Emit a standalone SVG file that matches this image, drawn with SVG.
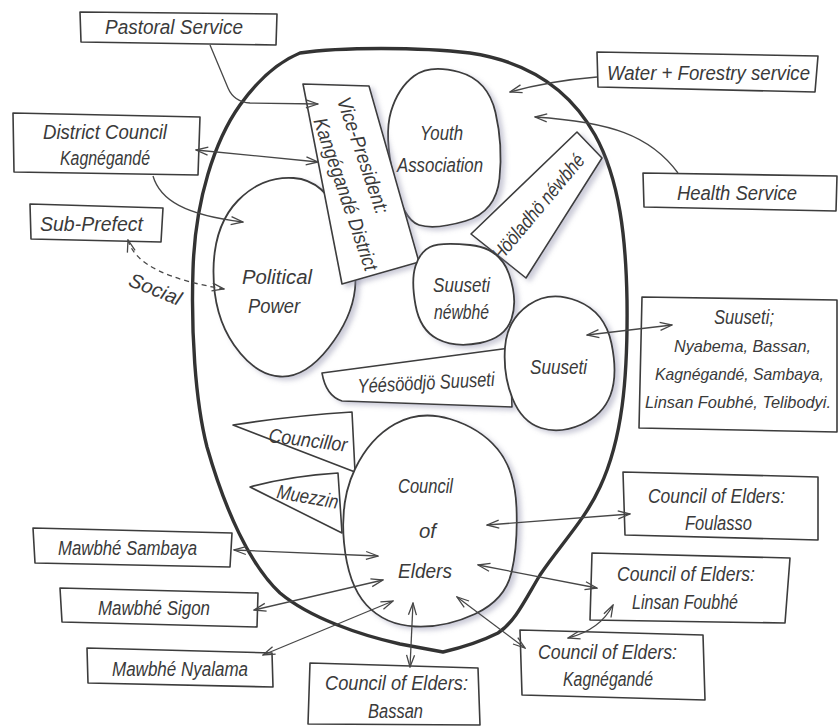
<svg xmlns="http://www.w3.org/2000/svg" width="839" height="727" viewBox="0 0 839 727">
  <defs>
    <style>
      .box { fill: #fff; stroke: #3c3c3c; stroke-width: 1.6; stroke-linejoin: round; }
      .blob { fill: #fff; stroke: #3c3c3c; stroke-width: 1.8; stroke-linejoin: round; filter: url(#shade); }
      .lbl { font-family: 'Liberation Sans', 'DejaVu Sans', sans-serif; font-style: italic; font-size: 20px; fill: #3a3a3a; }
      .small { font-size: 17px; }
      .link { fill: none; stroke: #474747; stroke-width: 1.3; }
      .dash { stroke-dasharray: 5 4; }
      .boundary { fill: none; stroke: #333; stroke-width: 3.4; stroke-linejoin: round; }
    </style>
    <filter id="shade" x="-15%" y="-15%" width="140%" height="140%">
      <feDropShadow dx="4" dy="3" stdDeviation="2.5" flood-color="#8d8daa" flood-opacity="0.45"/>
    </filter>
    <marker id="head" viewBox="0 0 14 10" refX="13" refY="5" markerWidth="14" markerHeight="10" markerUnits="userSpaceOnUse" orient="auto-start-reverse">
      <path d="M1,1 L13,5 L1,9" fill="none" stroke="#474747" stroke-width="1.3" stroke-dasharray="none"/>
    </marker>
  </defs>

  <rect width="839" height="727" fill="#fff"/>

  <!-- community boundary -->
  <g id="community-boundary">
    <path class="boundary" d="M300,53 C340,47 420,47 470,53 C530,62 570,90 595,135 C620,180 626,240 627,300 C628,380 622,440 600,487 C585,520 560,545 540,575 C525,600 515,622 498,633 C480,642 460,648 443,652 L400,644 C360,635 310,618 280,593 C250,565 225,510 207,447 C195,400 191,330 193,270 C195,200 215,140 240,105 C258,80 278,62 300,53 Z"/>
  </g>

  <!-- outside actors -->
  <g id="pastoral-service">
    <polygon class="box" points="80,12 277,14 276,45 81,42"/>
    <text class="lbl" x="105" y="34" textLength="138" lengthAdjust="spacingAndGlyphs">Pastoral Service</text>
  </g>
  <g id="district-council">
    <polygon class="box" points="13,113 200,117 198,175 14,172"/>
    <text class="lbl" x="43" y="139" textLength="124" lengthAdjust="spacingAndGlyphs">District Council</text>
    <text class="lbl" x="60" y="165" textLength="90" lengthAdjust="spacingAndGlyphs">Kagnégandé</text>
  </g>
  <g id="sub-prefect">
    <polygon class="box" points="30,204 163,208 161,242 31,239"/>
    <text class="lbl" x="40" y="231" textLength="103" lengthAdjust="spacingAndGlyphs">Sub-Prefect</text>
  </g>
  <g id="water-forestry">
    <polygon class="box" points="597,52 818,56 815,92 598,87"/>
    <text class="lbl" x="607" y="80" textLength="203" lengthAdjust="spacingAndGlyphs">Water + Forestry service</text>
  </g>
  <g id="health-service">
    <polygon class="box" points="643,173 837,176 836,211 644,207"/>
    <text class="lbl" x="677" y="200" textLength="120" lengthAdjust="spacingAndGlyphs">Health Service</text>
  </g>
  <g id="suuseti-villages">
    <polygon class="box" points="642,297 837,300 837,432 639,428"/>
    <text class="lbl" x="714" y="324" textLength="60" lengthAdjust="spacingAndGlyphs">Suuseti;</text>
    <text class="lbl small" x="674" y="352" textLength="137" lengthAdjust="spacingAndGlyphs">Nyabema, Bassan,</text>
    <text class="lbl small" x="655" y="380" textLength="169" lengthAdjust="spacingAndGlyphs">Kagnégandé, Sambaya,</text>
    <text class="lbl small" x="645" y="408" textLength="186" lengthAdjust="spacingAndGlyphs">Linsan Foubhé, Telibodyi.</text>
  </g>
  <g id="elders-foulasso">
    <polygon class="box" points="623,472 818,477 818,540 625,535"/>
    <text class="lbl" x="648" y="503" textLength="137" lengthAdjust="spacingAndGlyphs">Council of Elders:</text>
    <text class="lbl" x="685" y="530" textLength="67" lengthAdjust="spacingAndGlyphs">Foulasso</text>
  </g>
  <g id="elders-linsan">
    <polygon class="box" points="592,553 790,558 785,623 590,620"/>
    <text class="lbl" x="617" y="581" textLength="138" lengthAdjust="spacingAndGlyphs">Council of Elders:</text>
    <text class="lbl" x="632" y="609" textLength="106" lengthAdjust="spacingAndGlyphs">Linsan Foubhé</text>
  </g>
  <g id="elders-kagnegande">
    <polygon class="box" points="520,630 703,635 705,700 522,695"/>
    <text class="lbl" x="538" y="659" textLength="139" lengthAdjust="spacingAndGlyphs">Council of Elders:</text>
    <text class="lbl" x="563" y="686" textLength="90" lengthAdjust="spacingAndGlyphs">Kagnégandé</text>
  </g>
  <g id="elders-bassan">
    <polygon class="box" points="310,663 478,668 480,725 308,724"/>
    <text class="lbl" x="325" y="690" textLength="143" lengthAdjust="spacingAndGlyphs">Council of Elders:</text>
    <text class="lbl" x="368" y="718" textLength="55" lengthAdjust="spacingAndGlyphs">Bassan</text>
  </g>
  <g id="mawbhe-sambaya">
    <polygon class="box" points="33,528 232,533 230,567 35,563"/>
    <text class="lbl" x="58" y="555" textLength="139" lengthAdjust="spacingAndGlyphs">Mawbhé Sambaya</text>
  </g>
  <g id="mawbhe-sigon">
    <polygon class="box" points="60,588 258,593 257,627 62,622"/>
    <text class="lbl" x="98" y="615" textLength="112" lengthAdjust="spacingAndGlyphs">Mawbhé Sigon</text>
  </g>
  <g id="mawbhe-nyalama">
    <polygon class="box" points="87,648 272,653 273,687 88,683"/>
    <text class="lbl" x="112" y="676" textLength="136" lengthAdjust="spacingAndGlyphs">Mawbhé Nyalama</text>
  </g>

  <!-- inside the community -->
  <g id="youth-association">
    <path class="blob" d="M414,76 Q430,64 459,72 Q488,80 495.5,112.5 Q503,145 499.5,178.5 Q496,212 465.5,221 Q435,230 419,225 Q403,220 393.5,177.5 Q384,135 391,111.5 Q398,88 414,76 Z"/>
    <text class="lbl" x="420" y="140" textLength="43" lengthAdjust="spacingAndGlyphs">Youth</text>
    <text class="lbl" x="397" y="172" textLength="86" lengthAdjust="spacingAndGlyphs">Association</text>
  </g>
  <g id="political-power">
    <path class="blob" d="M238,200.5 Q262,176 293.5,178 Q325,180 341.5,220 Q358,260 355,289 Q352,318 328.5,348 Q305,378 280,376.5 Q255,375 234,345 Q213,315 213.5,270 Q214,225 238,200.5 Z"/>
    <text class="lbl" x="242" y="284" textLength="70" lengthAdjust="spacingAndGlyphs">Political</text>
    <text class="lbl" x="248" y="313" textLength="52" lengthAdjust="spacingAndGlyphs">Power</text>
  </g>
  <g id="vice-president">
    <polygon class="box" style="filter:url(#shade)" points="303,84 369,86 419,262 342,284"/>
    <g transform="translate(360,183) rotate(71)">
      <text class="lbl" x="-25" y="-5" text-anchor="middle" textLength="122" lengthAdjust="spacingAndGlyphs">Vice-President:</text>
      <text class="lbl" x="6" y="24" text-anchor="middle" textLength="160" lengthAdjust="spacingAndGlyphs">Kangégandé District</text>
    </g>
  </g>
  <g id="hooladho-newbhe">
    <polygon class="box" style="filter:url(#shade)" points="577,132 602,158 526,278 471,234"/>
    <text class="lbl" transform="translate(538,207) rotate(-50)" x="0" y="7" text-anchor="middle" textLength="132" lengthAdjust="spacingAndGlyphs">Hööladhö néwbhé</text>
  </g>
  <g id="suuseti-newbhe">
    <path class="blob" d="M430,247 Q440,242 470,245 Q500,248 509,274 Q518,300 511.5,319 Q505,338 480,343 Q455,348 437.5,339 Q420,330 415.5,305 Q411,280 415.5,266 Q420,252 430,247 Z"/>
    <text class="lbl" x="433" y="292" textLength="57" lengthAdjust="spacingAndGlyphs">Suuseti</text>
    <text class="lbl" x="434" y="319" textLength="55" lengthAdjust="spacingAndGlyphs">néwbhé</text>
  </g>
  <g id="yeesoodjo-suuseti">
    <path class="box" style="filter:url(#shade)" d="M322,373 L510,348 L512,407 L342,401 Q326,396 322,373 Z"/>
    <text class="lbl" transform="translate(358,393) rotate(-3)" x="0" y="0" textLength="137" lengthAdjust="spacingAndGlyphs">Yéésöödjö Suuseti</text>
  </g>
  <g id="suuseti">
    <path class="blob" d="M528.5,305 Q550,290 577.5,301 Q605,312 611.5,343.5 Q618,375 610.5,395 Q603,415 581.5,424.5 Q560,434 541,428 Q522,422 512.5,398.5 Q503,375 505,347.5 Q507,320 528.5,305 Z"/>
    <text class="lbl" x="530" y="374" textLength="57" lengthAdjust="spacingAndGlyphs">Suuseti</text>
  </g>
  <g id="councillor">
    <path class="box" d="M233,425 Q290,416 352,412 L355,472 Z"/>
    <text class="lbl" transform="translate(268,442) rotate(7)" x="0" y="0" textLength="79" lengthAdjust="spacingAndGlyphs">Councillor</text>
  </g>
  <g id="muezzin">
    <path class="box" d="M250,487 Q290,476 338,473 L342,533 Z"/>
    <text class="lbl" transform="translate(276,498) rotate(10)" x="0" y="0" textLength="62" lengthAdjust="spacingAndGlyphs">Muezzin</text>
  </g>
  <g id="council-of-elders">
    <path class="blob" d="M355,469 Q370,438 395,424 Q420,410 450,419 Q480,428 497.5,449 Q515,470 516.5,507.5 Q518,545 511.5,572.5 Q505,600 475,614 Q445,628 415,626.5 Q385,625 366.5,605 Q348,585 344,542.5 Q340,500 355,469 Z"/>
    <text class="lbl" x="398" y="493" textLength="55" lengthAdjust="spacingAndGlyphs">Council</text>
    <text class="lbl" x="419" y="538" textLength="17" lengthAdjust="spacingAndGlyphs">of</text>
    <text class="lbl" x="398" y="578" textLength="54" lengthAdjust="spacingAndGlyphs">Elders</text>
  </g>

  <!-- relations -->
  <g id="connectors">
    <path class="link" d="M210,45 L228,88 Q234,102 250,103 L318,104" marker-end="url(#head)"/>
    <path class="link" d="M196,150 L318,162" marker-start="url(#head)" marker-end="url(#head)"/>
    <path class="link" d="M153,176 C160,200 185,215 243,222" marker-end="url(#head)"/>
    <path class="link dash" d="M128,240 C135,265 170,280 224,289" marker-start="url(#head)" marker-end="url(#head)"/>
    <text class="lbl" transform="translate(155,290) rotate(22)" x="0" y="6" text-anchor="middle" textLength="55" lengthAdjust="spacingAndGlyphs">Social</text>
    <path class="link" d="M597,77 C560,80 535,85 510,92" marker-end="url(#head)"/>
    <path class="link" d="M678,173 C650,135 610,122 535,117" marker-end="url(#head)"/>
    <path class="link" d="M587,335 L672,325" marker-start="url(#head)" marker-end="url(#head)"/>
    <path class="link" d="M487,525 L630,514" marker-start="url(#head)" marker-end="url(#head)"/>
    <path class="link" d="M478,565 L597,588" marker-start="url(#head)" marker-end="url(#head)"/>
    <path class="link" d="M457,597 L525,648" marker-start="url(#head)" marker-end="url(#head)"/>
    <path class="link" d="M613,605 Q600,630 568,638" marker-start="url(#head)" marker-end="url(#head)"/>
    <path class="link" d="M413,603 L410,667" marker-start="url(#head)" marker-end="url(#head)"/>
    <path class="link" d="M234,550 L378,556" marker-start="url(#head)" marker-end="url(#head)"/>
    <path class="link" d="M254,610 L383,580" marker-start="url(#head)" marker-end="url(#head)"/>
    <path class="link" d="M263,655 L393,601" marker-start="url(#head)" marker-end="url(#head)"/>
  </g>
</svg>
